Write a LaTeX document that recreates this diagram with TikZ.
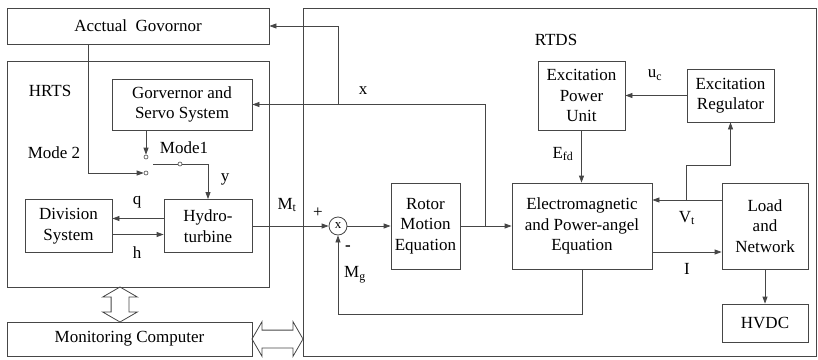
\documentclass[tikz,border=0pt]{standalone}
\usepackage{fontspec}
\setmainfont{Liberation Serif}
\newfontfamily\tnr{Liberation Serif}
\usepackage{tikz}
\usetikzlibrary{arrows.meta, positioning, shapes.arrows, calc}
\definecolor{linegray}{RGB}{70,70,70}

\begin{document}
\begin{tikzpicture}[x=1pt, y=-1pt,
    block/.style={rectangle, draw=linegray, line width=0.8pt, align=center, inner sep=1pt,
                  font=\tnr\fontsize{17}{20.5}\selectfont},
    lbl/.style={font=\tnr\fontsize{17}{20}\selectfont, inner sep=0pt},
    term/.style={circle, draw=linegray, line width=0.6pt, fill=white, minimum size=4pt, inner sep=0pt},
    hollow/.style={double arrow, draw=linegray, line width=0.8pt, inner xsep=0pt, inner ysep=8.5pt,
                   double arrow head extend=8.5pt, double arrow tip angle=120},
    conn/.style={draw=linegray, line width=0.8pt},
    arr/.style={conn, -{Triangle[length=7pt,width=5pt]}}
]
\useasboundingbox (0,0) rectangle (818,359);
\node[block, minimum width=262pt, minimum height=36pt] (acg) at (138,26) {Acctual~ Govornor};
\node[block, minimum width=262pt, minimum height=226pt] (hrts) at (138,174) {};
\node[block, minimum width=140pt, minimum height=51pt] (gov) at (182,104.5) {Gorvernor and\\Servo System};
\node[block, minimum width=87pt, minimum height=53pt] (div) at (68.5,226) {Division\\System};
\node[block, minimum width=88pt, minimum height=53pt] (hyd) at (208,226) {Hydro-\\turbine};
\node[block, minimum width=245pt, minimum height=34pt] (mon) at (129.5,339) {Monitoring Computer};
\node[block, minimum width=513pt, minimum height=348pt] (rtds) at (559.5,182) {};
\node[block, minimum width=87pt, minimum height=69pt] (epu) at (581.5,95.5) {Excitation\\Power\\Unit};
\node[block, minimum width=87pt, minimum height=53pt] (reg) at (730.5,95.5) {Excitation\\Regulator};
\node[block, minimum width=69pt, minimum height=86pt] (rotor) at (425.5,226) {Rotor\\Motion\\Equation};
\node[block, minimum width=140pt, minimum height=86pt] (em) at (582,226) {Electromagnetic\\and Power-angel\\Equation};
\node[block, minimum width=86pt, minimum height=86pt] (load) at (765,226) {Load\\and\\Network};
\node[block, minimum width=86pt, minimum height=38pt] (hvdc) at (765,323) {HVDC};
\node[circle, draw=linegray, line width=0.8pt, minimum size=18pt, inner sep=0pt,
      font=\tnr\fontsize{13}{13}\selectfont] (sum) at (338,226) {x};

\node[hollow, minimum height=35pt, rotate=90] (vha) at (120,304.5) {};
\node[hollow, minimum height=51pt] (hha) at ($(mon.east)!0.5!(mon.east -| rtds.west)$) {};

\node[term] (s1) at (146,157) {};
\node[term] (s2) at (146,173) {};
\node[term] (s3) at (180,164) {};
\coordinate (piv) at (153,164);
\coordinate (sw) at (208,164);
\coordinate (br) at (485,226);
\coordinate (bx) at (gov.east -| sum);
\coordinate (vt) at ([yshift=26pt]load.west -| reg.west);
\coordinate (fb) at (338,314);

\draw[arr] (s1 |- gov.south) -- (s1.north);
\draw[arr] ([xshift=-50pt]acg.south) |- (s2.west);
\draw[conn] (piv) -- (s3.west);
\draw[arr] (s3.east) -- (sw) -- (hyd.north);
\draw[arr] ([yshift=7.5pt]hyd.west) -- ([yshift=7.5pt]div.east);
\draw[arr] ([yshift=-8.5pt]div.east) -- ([yshift=-8.5pt]hyd.west);
\draw[arr] (hyd.east) -- (sum.west);
\draw[arr] (sum.east) -- (rotor.west);
\draw[arr] (rotor.east) -- (em.west);
\draw[arr] (br) |- (gov.east);
\draw[arr] (bx) |- (acg.east);
\draw[arr] (epu.south) -- (epu.south |- em.north);
\draw[arr] (reg.west) -- (epu.east);
\draw[arr] ([yshift=26pt]load.west) -- ([yshift=26pt]load.west -| em.east);
\draw[arr] (vt) -- ([yshift=35pt]vt) -| (reg.south);
\draw[arr] ([yshift=-26pt]em.east) -- ([yshift=-26pt]load.west);
\draw[arr] (load.south) -- (hvdc.north);
\draw[arr] (em.south) |- (fb) -- (sum.south);

\node[lbl] (hrtslbl) at (50,91) {HRTS};
\node[lbl] (m2) at (54,153) {Mode 2};
\node[lbl] (m1) at (184,148) {Mode1};
\node[lbl] (ylbl) at (225,179) {y};
\node[lbl] (qlbl) at (137,202) {q};
\node[lbl] (hlbl) at (137,253) {h};
\node[lbl] (mtlbl) at (287,205) {M\textsubscript{t}};
\node[lbl] (plus) at (318,213) {+};
\node[lbl] (xlbl) at (363,91) {x};
\node[lbl] (rtdslbl) at (556,40) {RTDS};
\node[lbl] (uclbl) at (655,75) {u\textsubscript{c}};
\node[lbl] (efdlbl) at (563,154) {E\textsubscript{fd}};
\node[lbl] (vtlbl) at (687,218) {V\textsubscript{t}};
\node[lbl] (ilbl) at (687,269) {I};
\node[lbl] (minus) at (348,248) {\textbf{-}};
\node[lbl] (mglbl) at (355,275) {M\textsubscript{g}};
\end{tikzpicture}
\end{document}
